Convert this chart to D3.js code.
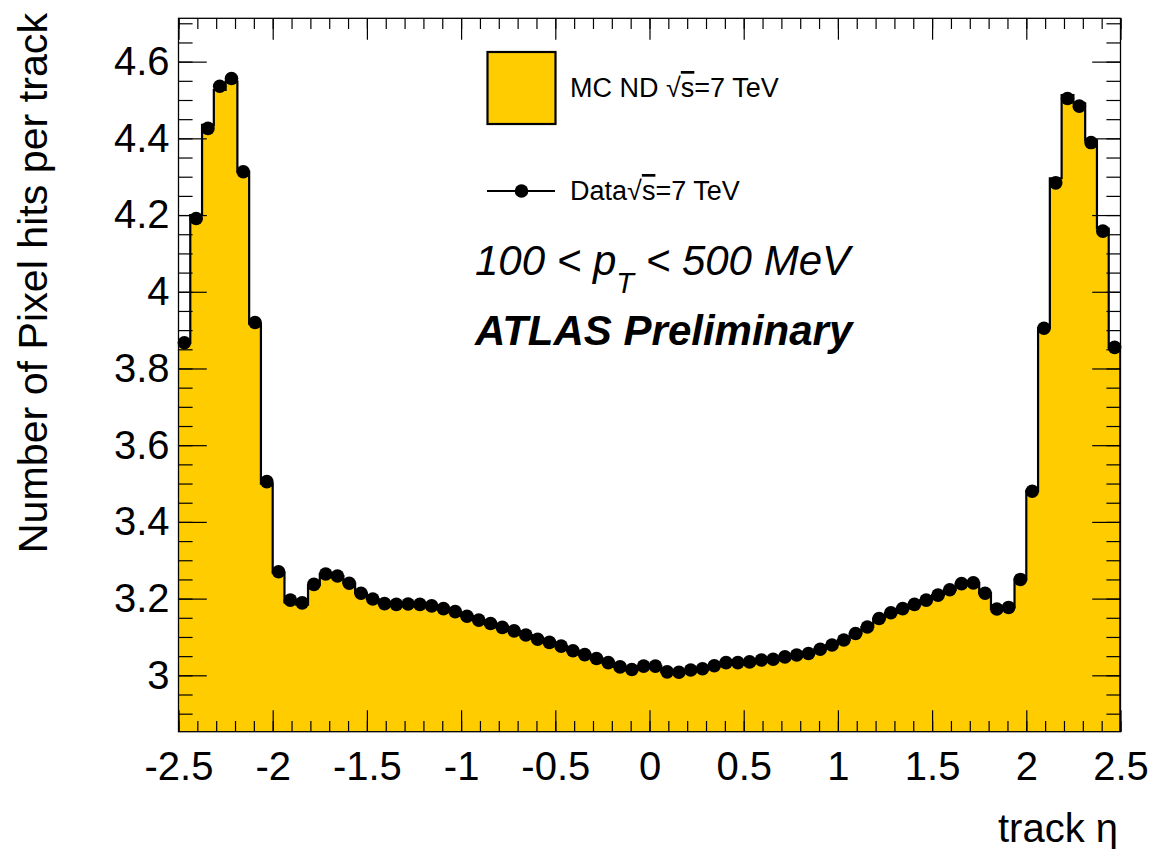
<!DOCTYPE html>
<html>
<head>
<meta charset="utf-8">
<script src="https://cdn.jsdelivr.net/npm/d3@7"></script>
<style>
  html, body { margin: 0; padding: 0; background: #fff; }
  svg { display: block; }
  text { font-family: "Liberation Sans", Arial, Helvetica, sans-serif; fill: #000; }
</style>
</head>
<body>
<svg id="chart" width="1151" height="849"></svg>
<script>
// Mean number of Pixel hits per track versus track pseudorapidity, 80 bins in [-2.5, 2.5]
const etaRange = [-2.5, 2.5];
const nBins = 80;

// Simulation (non-diffractive MC), one value per bin
const mcValues = [
  3.867, 4.200, 4.435, 4.526, 4.548, 4.313, 3.917, 3.500, 3.268, 3.190,
  3.184, 3.236, 3.264, 3.259, 3.240, 3.214, 3.199, 3.187, 3.185, 3.186,
  3.185, 3.181, 3.174, 3.166, 3.154, 3.144, 3.135, 3.125, 3.116, 3.105,
  3.094, 3.086, 3.076, 3.064, 3.054, 3.044, 3.033, 3.022, 3.015, 3.024,
  3.024, 3.009, 3.008, 3.014, 3.017, 3.025, 3.033, 3.033, 3.035, 3.040,
  3.042, 3.048, 3.053, 3.057, 3.068, 3.079, 3.092, 3.109, 3.126, 3.148,
  3.163, 3.174, 3.185, 3.196, 3.209, 3.223, 3.239, 3.241, 3.214, 3.173,
  3.177, 3.250, 3.480, 3.905, 4.296, 4.513, 4.491, 4.395, 4.165, 3.855
];

// Collision data at sqrt(s) = 7 TeV, one value per bin
const dataValues = [
  3.867, 4.191, 4.426, 4.536, 4.556, 4.313, 3.920, 3.505, 3.270, 3.196,
  3.189, 3.237, 3.264, 3.259, 3.240, 3.214, 3.199, 3.187, 3.185, 3.186,
  3.185, 3.181, 3.174, 3.166, 3.154, 3.144, 3.135, 3.125, 3.116, 3.105,
  3.094, 3.086, 3.076, 3.064, 3.054, 3.044, 3.033, 3.022, 3.015, 3.024,
  3.024, 3.009, 3.008, 3.014, 3.017, 3.025, 3.033, 3.033, 3.035, 3.040,
  3.042, 3.048, 3.053, 3.057, 3.068, 3.079, 3.092, 3.109, 3.126, 3.148,
  3.163, 3.174, 3.185, 3.196, 3.209, 3.223, 3.239, 3.241, 3.214, 3.173,
  3.177, 3.250, 3.480, 3.905, 4.284, 4.504, 4.484, 4.389, 4.158, 3.855
];

const yRange = [2.853, 4.713];
const xMajorTicks = [-2.5, -2, -1.5, -1, -0.5, 0, 0.5, 1, 1.5, 2, 2.5];
const xTickLabels = ["-2.5", "-2", "-1.5", "-1", "-0.5", "0", "0.5", "1", "1.5", "2", "2.5"];
const yMajorTicks = [3, 3.2, 3.4, 3.6, 3.8, 4, 4.2, 4.4, 4.6];
const yTickLabels = ["3", "3.2", "3.4", "3.6", "3.8", "4", "4.2", "4.4", "4.6"];

const frame = { left: 178.5, right: 1120.5, top: 18.3, bottom: 731.7 };
const fillColor = "#ffcc00";

const svg = d3.select("#chart");
svg.append("rect").attr("width", 1151).attr("height", 849).attr("fill", "#fff");

const x = d3.scaleLinear().domain(etaRange).range([frame.left, frame.right]);
const y = d3.scaleLinear().domain(yRange).range([frame.bottom, frame.top]);

const binWidth = (etaRange[1] - etaRange[0]) / nBins;
const binLow = d3.range(nBins).map(i => etaRange[0] + i * binWidth);

// step histogram: one point per low edge, plus the upper edge of the last bin
const mcSteps = binLow.map((lo, i) => ({ eta: lo, v: mcValues[i] }));
mcSteps.push({ eta: etaRange[1], v: mcValues[nBins - 1] });

const area = d3.area()
  .x(d => x(d.eta))
  .y0(y(yRange[0]))
  .y1(d => y(d.v))
  .curve(d3.curveStepAfter);

svg.append("path")
  .datum(mcSteps)
  .attr("d", area)
  .attr("fill", fillColor)
  .attr("stroke", "none");

// outline of the histogram
const outline = d3.line()
  .x(d => x(d.eta))
  .y(d => y(d.v))
  .curve(d3.curveStepAfter);
svg.append("path")
  .datum(mcSteps)
  .attr("d", outline)
  .attr("fill", "none")
  .attr("stroke", "#000")
  .attr("stroke-width", 2.2);
svg.append("line")
  .attr("x1", x(etaRange[1]) - 0.5).attr("x2", x(etaRange[1]) - 0.5)
  .attr("y1", y(mcValues[nBins - 1])).attr("y2", y(yRange[0]))
  .attr("stroke", "#000").attr("stroke-width", 1.5);

// axes: ticks point into the frame on all four sides
const minorX = d3.range(-2.5, 2.5001, 0.1).map(v => +v.toFixed(2));
const minorY = d3.range(2.85, 4.7101, 0.05).map(v => +v.toFixed(2)).filter(v => v >= yRange[0] && v <= yRange[1]);
const majX = 21.4, minX = 10.7, majY = 28.3, minY = 14.1;

function styleAxis(g) {
  g.select(".domain").remove();
  g.selectAll(".tick line").attr("stroke", "#000").attr("stroke-width", 1.2);
}

svg.append("g").attr("transform", `translate(0,${frame.bottom})`)
  .call(d3.axisBottom(x).tickValues(minorX).tickSize(-minX).tickFormat(""))
  .call(styleAxis);
const xAxis = svg.append("g").attr("transform", `translate(0,${frame.bottom})`)
  .call(d3.axisBottom(x).tickValues(xMajorTicks).tickSize(-majX).tickPadding(20)
    .tickFormat((d, i) => xTickLabels[i]))
  .call(styleAxis);
xAxis.selectAll(".tick text")
  .attr("font-size", 40).attr("font-family", "Liberation Sans, Arial, sans-serif")
  .attr("fill", "#000").attr("dy", "0.71em");

svg.append("g").attr("transform", `translate(0,${frame.top})`)
  .call(d3.axisTop(x).tickValues(minorX).tickSize(-minX).tickFormat(""))
  .call(styleAxis);
svg.append("g").attr("transform", `translate(0,${frame.top})`)
  .call(d3.axisTop(x).tickValues(xMajorTicks).tickSize(-majX).tickFormat(""))
  .call(styleAxis);

svg.append("g").attr("transform", `translate(${frame.left},0)`)
  .call(d3.axisLeft(y).tickValues(minorY).tickSize(-minY).tickFormat(""))
  .call(styleAxis);
const yAxis = svg.append("g").attr("transform", `translate(${frame.left},0)`)
  .call(d3.axisLeft(y).tickValues(yMajorTicks).tickSize(-majY).tickPadding(9)
    .tickFormat((d, i) => yTickLabels[i]))
  .call(styleAxis);
yAxis.selectAll(".tick text")
  .attr("font-size", 40).attr("font-family", "Liberation Sans, Arial, sans-serif")
  .attr("fill", "#000");

svg.append("g").attr("transform", `translate(${frame.right},0)`)
  .call(d3.axisRight(y).tickValues(minorY).tickSize(-minY).tickFormat(""))
  .call(styleAxis);
svg.append("g").attr("transform", `translate(${frame.right},0)`)
  .call(d3.axisRight(y).tickValues(yMajorTicks).tickSize(-majY).tickFormat(""))
  .call(styleAxis);

// frame
svg.append("rect")
  .attr("x", frame.left).attr("y", frame.top)
  .attr("width", frame.right - frame.left).attr("height", frame.bottom - frame.top)
  .attr("fill", "none").attr("stroke", "#000").attr("stroke-width", 1.3);

// data points at bin centres
svg.append("g").selectAll("circle")
  .data(dataValues)
  .join("circle")
  .attr("cx", (d, i) => x(binLow[i] + binWidth / 2))
  .attr("cy", d => y(d))
  .attr("r", 6.8)
  .attr("fill", "#000");

// axis titles
svg.append("text")
  .attr("transform", "translate(47,13) rotate(-90)")
  .attr("text-anchor", "end")
  .attr("font-size", 41.2)
  .text("Number of Pixel hits per track");

svg.append("text")
  .attr("x", 1118).attr("y", 842)
  .attr("text-anchor", "end")
  .attr("font-size", 40)
  .text("track η");

// legend
svg.append("rect")
  .attr("x", 487.5).attr("y", 52).attr("width", 68).attr("height", 72)
  .attr("fill", fillColor).attr("stroke", "#000").attr("stroke-width", 2.2);

function sqrtLabel(prefix, xPos, yPos) {
  const t = svg.append("text").attr("x", xPos).attr("y", yPos).attr("font-size", 27);
  t.append("tspan").text(prefix);
  t.append("tspan").text("√");
  t.append("tspan").attr("text-decoration", "overline").text("s");
  t.append("tspan").text("=7 TeV");
}
sqrtLabel("MC ND ", 570, 97);

svg.append("line")
  .attr("x1", 487).attr("x2", 555).attr("y1", 191).attr("y2", 191)
  .attr("stroke", "#000").attr("stroke-width", 2.2);
svg.append("circle").attr("cx", 521.5).attr("cy", 191).attr("r", 6.8).attr("fill", "#000");
sqrtLabel("Data", 570, 200);

// kinematic selection and experiment label
const sel = svg.append("text").attr("x", 475).attr("y", 275)
  .attr("font-size", 42).attr("font-style", "italic");
sel.append("tspan").text("100 < p");
sel.append("tspan").attr("font-size", 29).attr("dy", 18).text("T");
sel.append("tspan").attr("dy", -18).text(" < 500 MeV");

svg.append("text").attr("x", 475).attr("y", 345)
  .attr("font-size", 42).attr("font-style", "italic").attr("font-weight", "bold")
  .text("ATLAS Preliminary");
</script>
</body>
</html>
